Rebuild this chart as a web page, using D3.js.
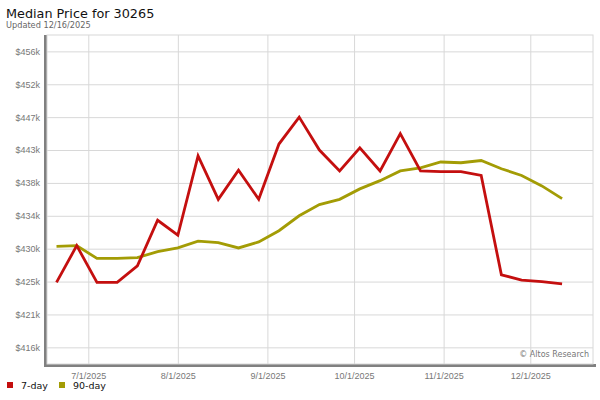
<!DOCTYPE html>
<html><head><meta charset="utf-8">
<script src="https://cdn.jsdelivr.net/npm/d3@7"></script>
<style>body{margin:0;background:#fff}svg{display:block;font-family:"DejaVu Sans",sans-serif}</style>
</head><body><svg id="c" width="600" height="400"></svg>
<script>
const dates = ["2025-06-20","2025-06-27","2025-07-04","2025-07-11","2025-07-18","2025-07-25","2025-08-01","2025-08-08","2025-08-15","2025-08-22","2025-08-29","2025-09-05","2025-09-12","2025-09-19","2025-09-26","2025-10-03","2025-10-10","2025-10-17","2025-10-24","2025-10-31","2025-11-07","2025-11-14","2025-11-21","2025-11-28","2025-12-05","2025-12-12"];
const sevenDay = [425100,430000,425100,425100,427300,433400,431400,442000,436200,440100,436200,443600,447200,442800,440000,443100,440000,445000,440000,439900,439900,439400,426100,425400,425200,424900];
const ninetyDay = [429900,430000,428300,428300,428400,429200,429700,430600,430400,429700,430500,432000,434000,435500,436200,437600,438700,440000,440400,441200,441100,441400,440300,439400,438000,436300];
const yTicks = [416400,420800,425200,429600,434000,438400,442800,447200,451600,456000];
const yTickLabels = ["$416k","$421k","$425k","$430k","$434k","$438k","$443k","$447k","$452k","$456k"];
const xTicks = ["2025-07-01","2025-08-01","2025-09-01","2025-10-01","2025-11-01","2025-12-01"];
const xTickLabels = ["7/1/2025","8/1/2025","9/1/2025","10/1/2025","11/1/2025","12/1/2025"];
const seriesNames = ["7-day","90-day"];
const colors = ["#c40f0f","#a39c05"];

const svg = d3.select("#c");
const L=47,R=593,T=35,B=364;
const parse = s => new Date(s+"T00:00:00Z");
const x = d3.scaleUtc().domain([new Date(Date.UTC(2025,5,16,17)), new Date(Date.UTC(2025,11,22,17))]).range([L,R]);
const y = d3.scaleLinear().domain([414170,458190]).range([B,T]);

// shadow
svg.append("rect").attr("x",44).attr("y",T).attr("width",3).attr("height",B-T+3).attr("fill","#808080");
svg.append("rect").attr("x",44).attr("y",B).attr("width",R-44+3).attr("height",3).attr("fill","#808080");
// frame
svg.append("rect").attr("x",L).attr("y",T).attr("width",R-L).attr("height",B-T).attr("fill","#fff").attr("stroke","#d8d8d8").attr("stroke-width",1);

// grid
const gy = svg.append("g").attr("transform",`translate(${L},0)`)
  .call(d3.axisLeft(y).tickValues(yTicks).tickSize(-(R-L)).tickFormat((d,i)=>yTickLabels[i]).tickPadding(7));
gy.select(".domain").remove();
gy.selectAll("line").attr("stroke","#d8d8d8");
gy.selectAll("text").attr("fill","#777").style("font-size","9px");

const gx = svg.append("g").attr("transform",`translate(0,${B})`)
  .call(d3.axisBottom(x).tickValues(xTicks.map(parse)).tickSize(-(B-T)).tickFormat((d,i)=>xTickLabels[i]).tickPadding(9));
gx.select(".domain").remove();
gx.selectAll("line").attr("stroke","#d8d8d8");
gx.selectAll("text").attr("fill","#777").style("font-size","9px");

// lines
const line = d3.line().x(d=>x(d[0])).y(d=>y(d[1]));
[ninetyDay, sevenDay].forEach((vals,k)=>{
  const idx = k===0?1:0;
  svg.append("path").datum(dates.map((d,i)=>[parse(d),vals[i]]))
    .attr("d",line).attr("fill","none").attr("stroke",colors[idx]).attr("stroke-width",2.8)
    .attr("stroke-linejoin","miter").attr("stroke-linecap","butt");
});

// copyright
svg.append("text").attr("x",589).attr("y",357).attr("text-anchor","end").attr("fill","#777").style("font-size","8px").text("© Altos Research");

// title
svg.append("text").attr("x",6).attr("y",18).attr("fill","#111").style("font-size","12.8px").text("Median Price for 30265");
svg.append("text").attr("x",6).attr("y",28).attr("fill","#666").style("font-size","8.2px").text("Updated 12/16/2025");

// legend
const lg = svg.append("g");
const lx = [7,59];
seriesNames.forEach((n,i)=>{
  lg.append("rect").attr("x",lx[i]).attr("y",382).attr("width",6).attr("height",6).attr("fill",colors[i]);
  lg.append("text").attr("x",lx[i]+14).attr("y",389).attr("fill","#111").style("font-size","9.5px").text(n);
});
</script></body></html>
